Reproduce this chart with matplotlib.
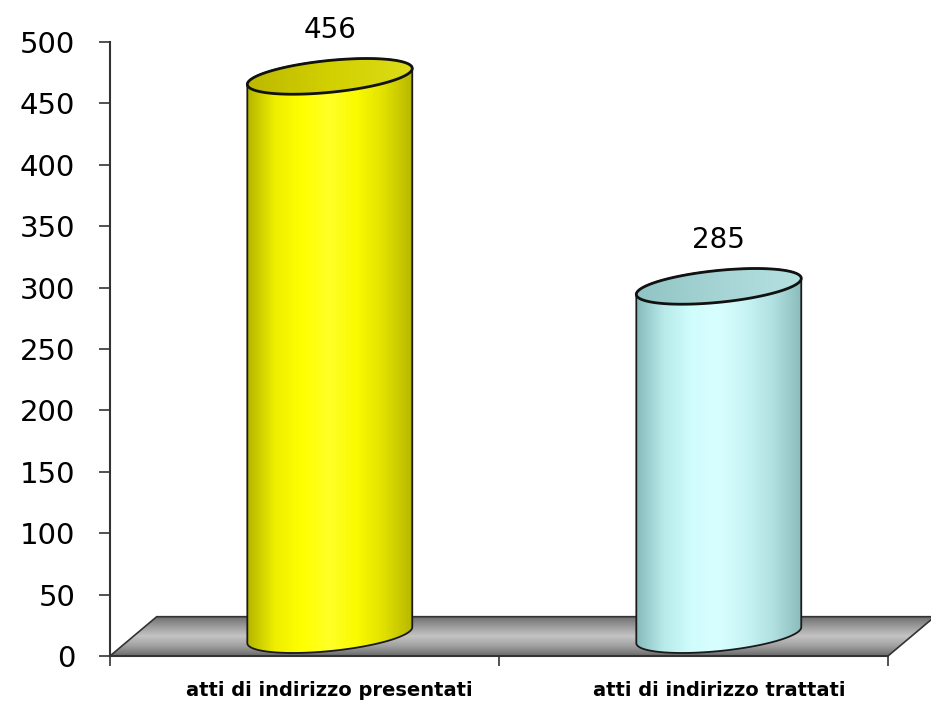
import numpy as np
import matplotlib.pyplot as plt
from matplotlib.patches import Polygon
from matplotlib.colors import LinearSegmentedColormap

categories = ["atti di indirizzo presentati", "atti di indirizzo trattati"]
values = [456, 285]
yticks = [0, 50, 100, 150, 200, 250, 300, 350, 400, 450, 500]

body_colors = [
    ["#b4b400", "#eeee00", "#ffff00", "#ffff28", "#fafa00", "#e0e000", "#b8b800"],
    ["#86baba", "#b8eaea", "#d0fcfc", "#d8ffff", "#c8f4f4", "#b0e0e0", "#8cbcbc"],
]
top_colors = [
    ["#bcb800", "#d2d000", "#dcdc18"],
    ["#90c4c4", "#a6d4d4", "#b4e0e0"],
]

# 3d look (data units)
dx, dz = 0.12, 32
R, tilt, h = 0.212, 6.5, 13

fig = plt.figure(figsize=(9.31, 7.01), dpi=100)
ax = fig.add_axes([110 / 931, 45 / 701, 2.13 * 389 / 931, 614 / 701])
ax.set_xlim(0, 2.13)
ax.set_ylim(0, 500)

for s in ["top", "right"]:
    ax.spines[s].set_visible(False)
ax.spines["left"].set_bounds(0, 500)
ax.spines["bottom"].set_bounds(0, 2)
for s in ["left", "bottom"]:
    ax.spines[s].set_color("#333333")
    ax.spines[s].set_linewidth(1.5)

ax.set_yticks(yticks)
ax.set_yticklabels([str(v) for v in yticks], fontsize=21)
ax.tick_params(axis="y", length=8, width=1.2, pad=17, color="#333333")
ax.set_xticks([0, 1, 2])
ax.set_xticklabels([])
ax.tick_params(axis="x", length=7, width=1.2, color="#333333")


def gradient(colors, extent, clip, vertical=False, z=2):
    cmap = LinearSegmentedColormap.from_list("g", colors)
    g = np.linspace(0, 1, 256)
    g = g.reshape(-1, 1) if vertical else g.reshape(1, -1)
    im = ax.imshow(g, cmap=cmap, extent=extent, aspect="auto",
                   origin="lower", zorder=z, interpolation="bilinear")
    im.set_clip_path(clip)


# floor
floor = Polygon([(0, 0), (2, 0), (2 + dx, dz), (dx, dz)], closed=True,
                facecolor="none", edgecolor="#333333", lw=1.2, zorder=1.5)
ax.add_patch(floor)
gradient(["#6a6a6a", "#a0a0a0", "#c4c4c4", "#9a9a9a", "#6c6c6c"],
         [0, 2 + dx, 0, dz], floor, vertical=True, z=1)


def ellipse(cx, cy, t):
    return np.column_stack([cx + R * np.cos(t), cy + tilt * np.cos(t) + h * np.sin(t)])


for i, v in enumerate(values):
    cx = i + 0.5 + 0.065
    ybot = dz / 2 + 1
    ytop = v + dz / 2
    upper = ellipse(cx, ytop, np.linspace(0, np.pi, 100))
    lower = ellipse(cx, ybot, np.linspace(np.pi, 2 * np.pi, 100))
    body = Polygon(np.vstack([upper, lower]), closed=True, facecolor="none",
                   edgecolor="#1a1a1a", lw=1.3, zorder=3)
    ax.add_patch(body)
    gradient(body_colors[i], [cx - R, cx + R, 0, ytop + h + tilt], body, z=2)

    top = Polygon(ellipse(cx, ytop, np.linspace(0, 2 * np.pi, 200)), closed=True,
                  facecolor="none", edgecolor="#111111", lw=2, zorder=5)
    ax.add_patch(top)
    gradient(top_colors[i], [cx - R, cx + R, ytop - 20, ytop + 20], top, z=4)

    ax.text(cx, v + 54, str(v), ha="center", va="center", fontsize=20, zorder=6)
    ax.text(cx, -28, categories[i], ha="center", va="center", fontsize=14,
            fontweight="bold")

fig.savefig("out.png", dpi=100)
